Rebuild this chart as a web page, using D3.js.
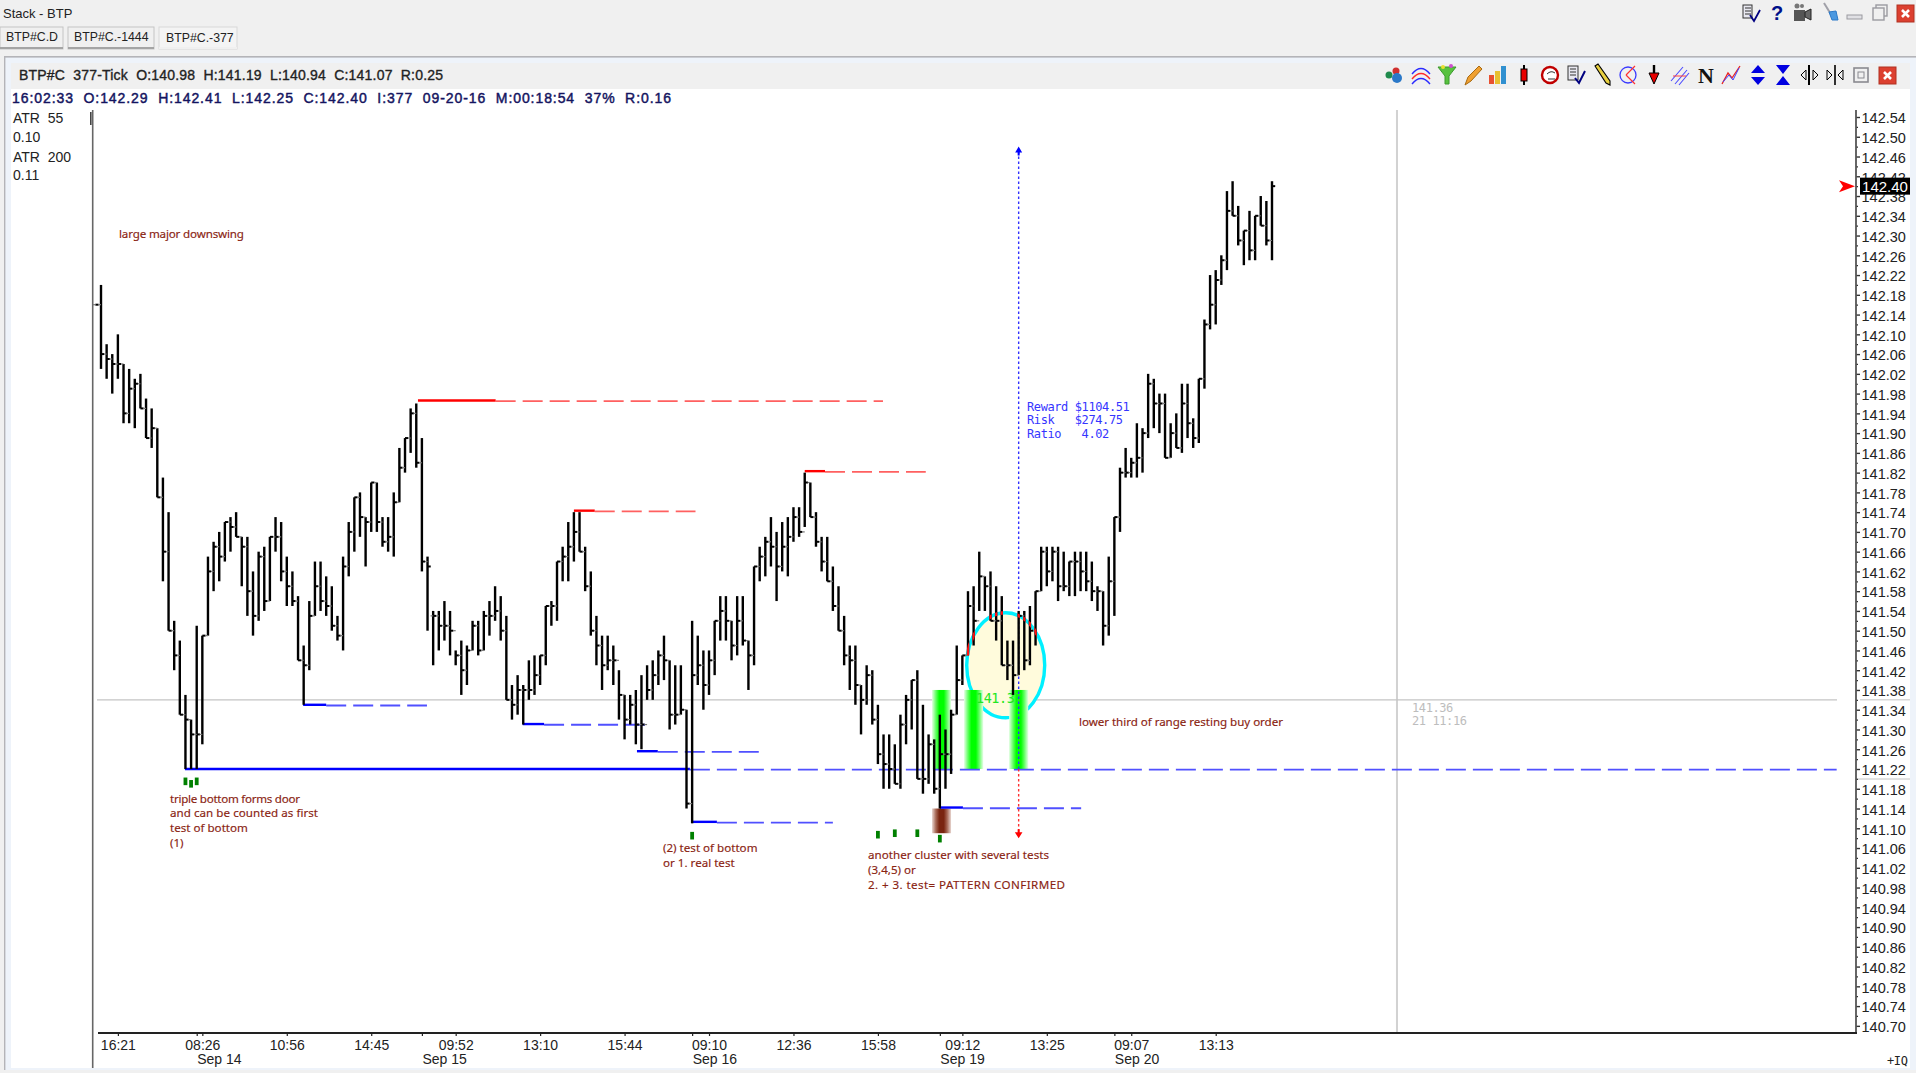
<!DOCTYPE html>
<html>
<head>
<meta charset="utf-8">
<script src="https://cdn.jsdelivr.net/npm/d3@7"></script>
<style>
  body { margin: 0; background: #f0f0f0; overflow: hidden; }
  svg { display: block; }
  text { white-space: pre; }
  .sans { font-family: "Liberation Sans", Arial, sans-serif; }
  .note { font-family: "Noto Sans", sans-serif; font-size: 11.6px; fill: #8a2412; stroke: #8a2412; stroke-width: 0.15px; }
  .mono { font-family: "DejaVu Sans Mono", monospace; letter-spacing: -0.4px; }
</style>
</head>
<body>
<div id="container"></div>
<script>
/* DATA, one value per bar */
const highs = [
  142.16,142.20,142.08,142.06,142.10,142.04,142.03,142.01,142.02,141.97,
  141.95,141.91,141.81,141.74,141.52,141.48,141.37,141.32,141.51,141.49,
  141.65,141.68,141.70,141.72,141.73,141.74,141.69,141.69,141.62,141.66,
  141.67,141.69,141.73,141.72,141.65,141.62,141.57,141.47,141.56,141.64,
  141.64,141.61,141.59,141.53,141.65,141.72,141.77,141.78,141.73,141.80,
  141.80,141.73,141.73,141.78,141.87,141.89,141.95,141.96,141.89,141.65,
  141.54,141.54,141.56,141.54,141.46,141.48,141.47,141.52,141.52,141.54,
  141.56,141.59,141.57,141.53,141.39,141.41,141.39,141.44,141.45,141.45,
  141.55,141.56,141.64,141.67,141.72,141.74,141.74,141.67,141.62,141.53,
  141.49,141.49,141.47,141.42,141.37,141.37,141.38,141.41,141.43,141.44,
  141.46,141.49,141.44,141.43,141.43,141.34,141.52,141.49,141.46,141.46,
  141.52,141.57,141.57,141.52,141.57,141.57,141.48,141.63,141.67,141.69,
  141.73,141.70,141.72,141.73,141.75,141.75,141.82,141.80,141.74,141.69,
  141.69,141.63,141.59,141.53,141.47,141.47,141.39,141.43,141.42,141.35,
  141.29,141.29,141.27,141.33,141.37,141.40,141.42,141.35,141.29,141.28,
  141.33,141.30,141.34,141.47,141.45,141.58,141.59,141.66,141.61,141.62,
  141.59,141.57,141.48,141.48,141.54,141.54,141.55,141.58,141.67,141.67,
  141.67,141.67,141.66,141.64,141.66,141.66,141.66,141.64,141.59,141.58,
  141.65,141.73,141.83,141.87,141.85,141.92,141.91,142.02,142.01,141.98,
  141.98,141.92,141.94,142.00,142.00,141.93,142.01,142.13,142.22,142.23,
  142.26,142.39,142.41,142.36,142.31,142.35,142.34,142.38,142.37,142.41];
const lows = [
  142.16,142.03,142.01,141.98,142.01,141.92,141.92,141.91,141.95,141.89,
  141.87,141.77,141.60,141.50,141.42,141.33,141.22,141.22,141.22,141.27,
  141.49,141.58,141.60,141.64,141.66,141.69,141.59,141.53,141.49,141.52,
  141.54,141.56,141.66,141.60,141.55,141.55,141.44,141.35,141.42,141.53,
  141.54,141.53,141.50,141.48,141.46,141.61,141.66,141.69,141.63,141.70,
  141.70,141.67,141.66,141.65,141.76,141.82,141.86,141.83,141.62,141.50,
  141.43,141.46,141.48,141.45,141.43,141.37,141.39,141.46,141.45,141.46,
  141.49,141.52,141.48,141.36,141.32,141.33,141.31,141.36,141.37,141.39,
  141.43,141.51,141.52,141.60,141.60,141.64,141.66,141.58,141.49,141.43,
  141.38,141.42,141.39,141.32,141.28,141.31,141.27,141.26,141.36,141.36,
  141.39,141.40,141.30,141.31,141.33,141.14,141.11,141.39,141.34,141.37,
  141.41,141.48,141.48,141.44,141.45,141.47,141.38,141.43,141.60,141.61,
  141.63,141.56,141.62,141.61,141.68,141.69,141.71,141.73,141.67,141.62,
  141.60,141.54,141.50,141.43,141.38,141.35,141.29,141.35,141.31,141.23,
  141.18,141.18,141.19,141.18,141.27,141.30,141.20,141.17,141.19,141.17,
  141.14,141.18,141.21,141.33,141.39,141.45,141.47,141.54,141.54,141.52,
  141.48,141.43,141.40,141.37,141.41,141.42,141.43,141.47,141.58,141.59,
  141.60,141.56,141.58,141.57,141.57,141.58,141.58,141.56,141.54,141.47,
  141.49,141.53,141.70,141.81,141.81,141.81,141.82,141.89,141.91,141.90,
  141.85,141.85,141.87,141.86,141.89,141.87,141.88,141.99,142.11,142.12,
  142.20,142.23,142.34,142.28,142.24,142.25,142.25,142.32,142.28,142.25];
const closes = [
  142.16,142.06,142.05,142.04,142.04,141.94,141.99,142.00,141.95,141.89,
  141.91,141.77,141.66,141.50,141.45,141.33,141.32,141.29,141.29,141.49,
  141.62,141.67,141.65,141.72,141.71,141.69,141.67,141.58,141.53,141.65,
  141.56,141.69,141.69,141.62,141.59,141.56,141.44,141.43,141.53,141.59,
  141.56,141.55,141.51,141.49,141.63,141.70,141.77,141.73,141.72,141.80,
  141.72,141.68,141.69,141.76,141.83,141.89,141.94,141.84,141.64,141.63,
  141.53,141.51,141.51,141.50,141.45,141.42,141.46,141.51,141.46,141.53,
  141.53,141.54,141.50,141.36,141.35,141.38,141.38,141.38,141.41,141.45,
  141.55,141.55,141.64,141.65,141.67,141.70,141.66,141.59,141.50,141.47,
  141.43,141.44,141.44,141.37,141.32,141.35,141.31,141.31,141.38,141.41,
  141.45,141.44,141.33,141.33,141.34,141.15,141.41,141.43,141.39,141.44,
  141.52,141.54,141.52,141.47,141.52,141.48,141.45,141.63,141.65,141.68,
  141.67,141.63,141.67,141.69,141.73,141.70,141.80,141.73,141.68,141.64,
  141.60,141.55,141.50,141.45,141.44,141.39,141.36,141.41,141.32,141.25,
  141.23,141.22,141.19,141.31,141.36,141.40,141.20,141.20,141.27,141.18,
  141.25,141.25,141.33,141.40,141.45,141.55,141.52,141.61,141.59,141.52,
  141.52,141.43,141.43,141.41,141.53,141.44,141.50,141.58,141.66,141.62,
  141.66,141.59,141.59,141.64,141.64,141.62,141.60,141.58,141.58,141.51,
  141.60,141.73,141.82,141.82,141.84,141.85,141.90,142.00,141.96,141.96,
  141.85,141.90,141.87,141.96,141.92,141.89,142.01,142.12,142.16,142.21,
  142.25,142.35,142.34,142.29,142.31,142.27,142.34,142.32,142.29,142.40];
const opens = [
  142.16,142.16,142.06,142.05,142.04,142.04,141.94,141.99,142.00,141.95,
  141.89,141.91,141.77,141.66,141.50,141.45,141.33,141.32,141.29,141.29,
  141.49,141.62,141.67,141.65,141.72,141.71,141.69,141.67,141.58,141.53,
  141.65,141.56,141.69,141.69,141.62,141.59,141.56,141.44,141.43,141.53,
  141.59,141.56,141.55,141.51,141.49,141.63,141.70,141.77,141.73,141.72,
  141.80,141.72,141.68,141.69,141.76,141.83,141.89,141.94,141.84,141.64,
  141.53,141.53,141.51,141.51,141.50,141.45,141.42,141.46,141.51,141.46,
  141.53,141.53,141.54,141.50,141.36,141.35,141.38,141.38,141.38,141.41,
  141.45,141.55,141.55,141.64,141.65,141.67,141.70,141.66,141.59,141.50,
  141.47,141.43,141.44,141.44,141.37,141.32,141.35,141.31,141.31,141.38,
  141.41,141.45,141.44,141.33,141.33,141.34,141.15,141.41,141.43,141.39,
  141.44,141.52,141.54,141.52,141.47,141.52,141.48,141.45,141.63,141.65,
  141.68,141.67,141.63,141.67,141.69,141.73,141.70,141.80,141.73,141.68,
  141.64,141.60,141.55,141.50,141.45,141.44,141.39,141.36,141.41,141.32,
  141.25,141.23,141.22,141.19,141.31,141.36,141.40,141.20,141.20,141.27,
  141.18,141.25,141.25,141.33,141.40,141.45,141.55,141.52,141.61,141.59,
  141.52,141.52,141.43,141.43,141.41,141.53,141.44,141.50,141.58,141.66,
  141.62,141.66,141.59,141.59,141.64,141.64,141.62,141.60,141.58,141.58,
  141.51,141.60,141.73,141.82,141.82,141.84,141.85,141.90,142.00,141.96,
  141.96,141.85,141.90,141.87,141.96,141.92,141.89,142.01,142.12,142.16,
  142.21,142.25,142.35,142.34,142.29,142.31,142.27,142.34,142.32,142.29];

const priceTicks = [142.54,142.50,142.46,142.42,142.38,142.34,142.30,142.26,142.22,142.18,142.14,142.10,
  142.06,142.02,141.98,141.94,141.90,141.86,141.82,141.78,141.74,141.70,141.66,141.62,141.58,141.54,
  141.50,141.46,141.42,141.38,141.34,141.30,141.26,141.22,141.18,141.14,141.10,141.06,141.02,140.98,
  140.94,140.90,140.86,140.82,140.78,140.74,140.70];
const priceMinorTicks = [142.52,142.48,142.44,142.40,142.36,142.32,142.28,142.24,142.20,142.16,142.12,142.08,
  142.04,142.00,141.96,141.92,141.88,141.84,141.80,141.76,141.72,141.68,141.64,141.60,141.56,141.52,
  141.48,141.44,141.40,141.36,141.32,141.28,141.24,141.20,141.16,141.12,141.08,141.04,141.00,140.96,
  140.92,140.88,140.84,140.80,140.76,140.72];
const timeBars = [4,19,34,49,64,79,94,109,124,139,154,169,184,199];
const timeLabels = ["16:21","08:26","10:56","14:45","09:52","13:10","15:44","09:10","12:36","15:58","09:12","13:25","09:07","13:13"];
const dateBars = [18,58,106,150,181];
const dateLabels = ["Sep 14","Sep 15","Sep 16","Sep 19","Sep 20"];

// support / resistance levels: price, first bar, end of solid part, end of dashes
const redPrices = [141.966,141.743,141.823];
const redStart = [57.3,85,126];
const redSolidEnd = [71.1,88.7,129.6];
const redDashEnd = [139.9,106.6,147.5];
const bluePrices = [141.22,141.35,141.311,141.256,141.113,141.142];
const blueStart = [15.9,36.9,75.9,96.2,105.9,150];
const blueSolidEnd = [105.6,41,79.7,99.9,110.4,154.1];
const blueDashEnd = [309.3,58.9,97.6,118,131,175.1];

const markerBars = [16,17,18,106,139,142,146,150];
const markerPrices = [141.195,141.19,141.195,141.085,141.087,141.09,141.09,141.079];

const greenColumnBars = [150.3,156,164];
const tradeBar = 164, tradeEntry = 141.22, tradeTarget = 142.47, tradeStop = 141.09;
const crossBar = 231.2, crossPrice = 141.36, lastPrice = 142.40;

/* SCALES */
const width = 1916, height = 1073;
const x = d3.scaleLinear().domain([1, 209]).range([101, 1272]);
const y = d3.scaleLinear().domain([141.22, 142.54]).range([769, 117]);

const svg = d3.select("#container").append("svg")
  .attr("width", width)
  .attr("height", height);

/* WINDOW CHROME */
const rect = (g, rx, ry, w, h, fill) => g.append("rect")
  .attr("x", rx).attr("y", ry).attr("width", w).attr("height", h).attr("fill", fill);
const label = (g, tx, ty, str, size, fill, cls = "sans") => g.append("text")
  .attr("class", cls).attr("x", tx).attr("y", ty).attr("dy", "0.35em")
  .attr("font-size", size).attr("fill", fill).text(str);

rect(svg, 0, 0, width, height, "#f0f0f0");
rect(svg, 4, 56, 1912, 1014, "#eef3fa");
rect(svg, 4, 56, 1912, 1.6, "#b4b4b8");
rect(svg, 4, 56, 1.4, 1014, "#b4b4b8");
rect(svg, 11, 63, 1899, 26, "#f0f0f0");
rect(svg, 11, 89, 1899, 979, "#ffffff");

label(svg, 3, 13, "Stack - BTP", 13, "#222");

// tabs
const tabs = [["BTP#C.D", 0, 63], ["BTP#C.-1444", 68, 86], ["BTP#C.-377", 159, 78]];
tabs.forEach(([t, tx, tw], i) => {
  const active = i === 2;
  rect(svg, tx, 27, tw, 22, active ? "#f4f4f4" : "#f0f0f0")
    .attr("stroke", active ? "#d8d8d8" : "#c4c4c4").attr("stroke-width", 1);
  rect(svg, tx, 47, tw, 2, active ? "#f0f0f0" : "#a4a4a4");
  label(svg, tx + (active ? 7 : 6), active ? 38 : 37, t, 12.3, "#222");
});

// header lines
label(svg, 19, 75, "BTP#C  377-Tick  O:140.98  H:141.19  L:140.94  C:141.07  R:0.25", 14, "#222")
  .attr("stroke", "#222").attr("stroke-width", 0.35).attr("textLength", 424);
label(svg, 12, 98, "16:02:33  O:142.29  H:142.41  L:142.25  C:142.40  I:377  09-20-16  M:00:18:54  37%  R:0.16", 14, "#14145f")
  .attr("stroke", "#14145f").attr("stroke-width", 0.45).attr("textLength", 659);

// ATR block
label(svg, 13, 118, "ATR  55", 14, "#222");
label(svg, 13, 137, "0.10", 14, "#222");
label(svg, 13, 157, "ATR  200", 14, "#222");
label(svg, 13, 175, "0.11", 14, "#222");
rect(svg, 90, 112, 1.6, 13, "#444");

/* ICONS */
const icon = (ix, iy) => svg.append("g").attr("transform", `translate(${ix},${iy})`);
const pathIn = (g, d, stroke, fill = "none", sw = 1.4) => g.append("path")
  .attr("d", d).attr("stroke", stroke).attr("fill", fill).attr("stroke-width", sw);
const circleIn = (g, cx, cy, r, fill, stroke = "none", sw = 1) => g.append("circle")
  .attr("cx", cx).attr("cy", cy).attr("r", r).attr("fill", fill).attr("stroke", stroke).attr("stroke-width", sw);

const iconY = 75;
let g = icon(1394, iconY);
circleIn(g, -5, 0, 3.5, "#1f8a4c"); circleIn(g, 2, -4, 3.5, "#d03030"); circleIn(g, 3, 3, 5, "#2a78c8");
g = icon(1421, iconY);
pathIn(g, "M-9,-1 Q0,-12 9,-1", "#2a2aff"); pathIn(g, "M-9,4 Q0,-7 9,4", "#ff2a2a"); pathIn(g, "M-9,9 Q0,-2 9,9", "#2a2aff");
g = icon(1447, iconY);
pathIn(g, "M-9,-8 L9,-8 L2,1 L2,9 L-2,9 L-2,1 Z", "#3d9a2e", "#58c23f", 1);
circleIn(g, -4, -8, 2, "#e8e030"); circleIn(g, 4, -9, 2, "#d050d0");
g = icon(1473, iconY);
pathIn(g, "M-8,10 L-5,2 L6,-9 L9,-6 L-2,6 Z", "#a86a10", "#f0a030", 1);
g = icon(1498, iconY);
rect(g, -9, 0, 5, 9, "#e85030"); rect(g, -3, -4, 5, 13, "#e8c030"); rect(g, 3, -9, 5, 18, "#3090d0");
g = icon(1524, iconY);
pathIn(g, "M0,-10 L0,10", "#000", "none", 2); rect(g, -3, -6, 6, 12, "#e80000").attr("stroke", "#000");
g = icon(1550, iconY);
circleIn(g, 0, 0, 8, "#fff", "#c00000", 2.4); pathIn(g, "M-3,-1 Q1,-5 5,-2 M-2,4 L5,4", "#333", "none", 1);
g = icon(1576, iconY);
rect(g, -8, -9, 10, 14, "#e8e8f0").attr("stroke", "#333");
pathIn(g, "M-6,-6 H0 M-6,-3 H0 M-6,0 H0", "#333", "none", 1); pathIn(g, "M-1,3 L3,8 L9,-4", "#000080", "none", 2);
g = icon(1602, iconY);
pathIn(g, "M-7,-9 L-4,-11 L8,6 L8,10 L4,8 Z", "#000", "#e8d040", 1.1);
g = icon(1628, iconY);
circleIn(g, 0, 0, 8, "none", "#3a3aff", 1.3); pathIn(g, "M-2,0 L7,-9 M-2,0 L7,9", "#ff3030", "none", 1.2);
g = icon(1654, iconY);
pathIn(g, "M0,-10 L0,-2", "#000", "none", 2.4); pathIn(g, "M-5,-2 L5,-2 L0,9 Z", "#000", "#e80000", 1);
g = icon(1680, iconY);
pathIn(g, "M-9,6 L3,-8 M-5,9 L7,-5 M-1,10 L9,-2", "#4a4aff", "none", 1.1); pathIn(g, "M-7,1 L6,1", "#ff4040", "none", 1);
g = icon(1706, iconY);
g.append("text").attr("text-anchor", "middle").attr("y", 8).attr("font-family", "Liberation Serif, serif")
  .attr("font-weight", "bold").attr("font-size", 22).attr("fill", "#111").text("N");
g = icon(1731, iconY);
pathIn(g, "M-9,9 L-3,-2 L1,3 L9,-9", "#e82020", "none", 1.3); pathIn(g, "M-8,7 L-2,0 L2,5 L8,-7", "#4040ff", "none", 1);
g = icon(1758, iconY);
pathIn(g, "M-7,-2 L7,-2 L0,-10 Z M-7,2 L7,2 L0,10 Z", "none", "#0000e0", 0);
g = icon(1783, iconY);
pathIn(g, "M-7,-10 L7,-10 L0,-1 Z M-7,10 L7,10 L0,1 Z", "none", "#0000e0", 0);
g = icon(1810, iconY);
pathIn(g, "M-1,-10 V10", "#000", "none", 2); pathIn(g, "M-4,-5 L-9,0 L-4,5 Z M3,-5 L8,0 L3,5 Z", "#000", "#eee", 1);
g = icon(1835, iconY);
pathIn(g, "M0,-10 V10", "#000", "none", 1.6); pathIn(g, "M-8,-5 L-3,0 L-8,5 Z M8,-5 L3,0 L8,5 Z", "#000", "#eee", 1);
g = icon(1861, iconY);
rect(g, -7, -7, 14, 14, "none").attr("stroke", "#8a8a90").attr("stroke-width", 1.6);
rect(g, -3, -3, 6, 6, "none").attr("stroke", "#8a8a90");
const closeIcon = (ix, iy) => {
  const c = icon(ix, iy);
  rect(c, -8, -8, 17, 17, "#dc4030").attr("stroke", "#b03020");
  pathIn(c, "M-3,-3 L4,4 M4,-3 L-3,4", "#fff", "none", 2.6);
};
closeIcon(1887, iconY);

const topY = 13;
g = icon(1751, topY);
rect(g, -8, -8, 9, 13, "#e8e8f0").attr("stroke", "#333");
pathIn(g, "M-6,-5 H0 M-6,-2 H0 M-6,1 H0", "#333", "none", 1); pathIn(g, "M-1,2 L3,8 L9,-3", "#000080", "none", 1.8);
g = icon(1777, topY);
g.append("text").attr("class", "sans").attr("text-anchor", "middle").attr("y", 7).attr("font-weight", "bold")
  .attr("font-size", 20).attr("fill", "#00108a").text("?");
g = icon(1802, topY);
rect(g, -8, -3, 11, 11, "#555"); pathIn(g, "M3,-1 L9,-4 L9,7 L3,4 Z", "#222", "#666", 1); circleIn(g, -5, -7, 2.5, "#777"); circleIn(g, 0, -7, 2, "#777");
g = icon(1830, topY);
pathIn(g, "M-6,-10 L2,3", "#a0a0a8", "none", 2); pathIn(g, "M-1,-1 L6,-2 L8,7 L2,7 Z", "#2a78c8", "#4a98e0", 1);
g = icon(1854, topY);
rect(g, -7, 2, 15, 4, "#e0e0e4").attr("stroke", "#9a9aa0");
g = icon(1880, topY);
rect(g, -4, -8, 11, 11, "none").attr("stroke", "#9a9aa0").attr("stroke-width", 1.4);
rect(g, -7, -5, 11, 12, "#f0f0f0").attr("stroke", "#9a9aa0").attr("stroke-width", 1.4);
closeIcon(1905, topY);

/* GRADIENTS */
const defs = svg.append("defs");
const fade = (id, core, edge, mid) => {
  const lg = defs.append("linearGradient").attr("id", id);
  [[0, edge], [0.2, mid], [0.38, core], [0.62, core], [0.8, mid], [1, edge]]
    .forEach(([o, c]) => lg.append("stop").attr("offset", o).attr("stop-color", c));
};
fade("greenFade", "#00ff00", "#e4ffe4", "#66ff66");
fade("brownFade", "#7a2510", "#e8d6d0", "#a86a58");

/* AXIS LINES AND CROSSHAIR */
const plot = svg.append("g");
plot.append("line").attr("x1", 92.7).attr("x2", 92.7).attr("y1", 110).attr("y2", 1068)
  .attr("stroke", "#666").attr("stroke-width", 1.6);
plot.append("line").attr("x1", x(crossBar)).attr("x2", x(crossBar)).attr("y1", 110).attr("y2", 1033)
  .attr("stroke", "#d2d2d2").attr("stroke-width", 2);
plot.append("line").attr("x1", 97).attr("x2", 1837).attr("y1", y(crossPrice)).attr("y2", y(crossPrice))
  .attr("stroke", "#c4c4c4").attr("stroke-width", 1.4);
plot.append("line").attr("x1", 1860).attr("x2", 1910).attr("y1", y(crossPrice)).attr("y2", y(crossPrice))
  .attr("stroke", "#c4c4c4").attr("stroke-width", 1);
plot.append("line").attr("x1", 1856).attr("x2", 1910).attr("y1", 779).attr("y2", 779)
  .attr("stroke", "#c4c4c4").attr("stroke-width", 1);

label(plot, 1412, 708, "141.36", 12, "#bdbdbd", "mono");
label(plot, 1412, 721, "21 11:16", 12, "#bdbdbd", "mono");

/* GREEN AND BROWN COLUMNS */
plot.selectAll("rect.green")
  .data(greenColumnBars)
  .join("rect")
  .attr("class", "green")
  .attr("x", d => x(d) - 9.5)
  .attr("width", 19)
  .attr("y", y(141.38))
  .attr("height", y(141.22) - y(141.38))
  .attr("fill", "url(#greenFade)");
plot.append("rect")
  .attr("x", x(150.3) - 9.5).attr("width", 19)
  .attr("y", y(141.14)).attr("height", y(141.09) - y(141.14))
  .attr("fill", "url(#brownFade)");

/* CIRCLE */
const circleBar = 161.7, circlePrice = 141.43, circleRx = 39, circleRy = 52.5;
plot.append("ellipse")
  .attr("cx", x(circleBar)).attr("cy", y(circlePrice))
  .attr("rx", circleRx).attr("ry", circleRy)
  .attr("fill", "#fffbdc").attr("stroke", "#00f0ff").attr("stroke-width", 3.4);
const greenCol = plot.append("g");
[156, 164].forEach(b => {
  greenCol.append("rect")
    .attr("x", x(b) - 9.5).attr("width", 19)
    .attr("y", y(141.38)).attr("height", y(141.22) - y(141.38))
    .attr("fill", "url(#greenFade)");
});
label(plot, 976, 698, "141.37", 13.4, "#22e622", "mono");

/* LEVELS */
const drawLevels = (prices, starts, solidEnds, dashEnds, solidColor, dashColor) => {
  plot.selectAll(null).data(prices).join("line")
    .attr("x1", (d, i) => x(solidEnds[i])).attr("x2", (d, i) => x(dashEnds[i]))
    .attr("y1", d => y(d) + 0.7).attr("y2", d => y(d) + 0.7)
    .attr("stroke", dashColor).attr("stroke-width", 1.8)
    .attr("stroke-dasharray", "20 7");
  plot.selectAll(null).data(prices).join("line")
    .attr("x1", (d, i) => x(starts[i])).attr("x2", (d, i) => x(solidEnds[i]))
    .attr("y1", d => y(d)).attr("y2", d => y(d))
    .attr("stroke", solidColor).attr("stroke-width", 2.4);
};
drawLevels(redPrices, redStart, redSolidEnd, redDashEnd, "#ff0000", "#ff6060");
drawLevels(bluePrices, blueStart, blueSolidEnd, blueDashEnd, "#0000ff", "#5050ff");

/* TRADE LINE */
plot.append("line")
  .attr("x1", x(tradeBar)).attr("x2", x(tradeBar))
  .attr("y1", y(tradeTarget)).attr("y2", y(tradeEntry))
  .attr("stroke", "#3030ff").attr("stroke-width", 1.4).attr("stroke-dasharray", "2.5 2.5");
plot.append("line")
  .attr("x1", x(tradeBar)).attr("x2", x(tradeBar))
  .attr("y1", y(tradeEntry)).attr("y2", y(tradeStop))
  .attr("stroke", "#ff3030").attr("stroke-width", 1.4).attr("stroke-dasharray", "2.5 2.5");
plot.append("path")
  .attr("transform", `translate(${x(tradeBar)},${y(tradeTarget)})`)
  .attr("d", "M0,-5 L3.5,1 L1,1 L1,4 L-1,4 L-1,1 L-3.5,1 Z").attr("fill", "#0000ff");
plot.append("path")
  .attr("transform", `translate(${x(tradeBar)},${y(tradeStop)})`)
  .attr("d", "M0,5 L3.8,-1 L1,-1 L1,-4 L-1,-4 L-1,-1 L-3.8,-1 Z").attr("fill", "#ff0000");

/* BARS */
const bars = d3.range(highs.length);
const barsG = plot.append("g");
const drawBars = (sel, color, w) => {
  sel.selectAll("line.hl").data(bars).join("line").attr("class", "hl")
    .attr("x1", d => x(d)).attr("x2", d => x(d))
    .attr("y1", d => y(highs[d])).attr("y2", d => y(lows[d]))
    .attr("stroke", color).attr("stroke-width", w);
};
drawBars(barsG, "#000", 2.4);
barsG.selectAll("line.close").data(bars).join("line").attr("class", "close")
  .attr("x1", d => x(d)).attr("x2", d => x(d) + 3.2)
  .attr("y1", d => y(closes[d])).attr("y2", d => y(closes[d]))
  .attr("stroke", "#000").attr("stroke-width", 2);
barsG.selectAll("line.open").data(bars).join("line").attr("class", "open")
  .attr("x1", d => x(d) - 2.6).attr("x2", d => x(d))
  .attr("y1", d => y(opens[d])).attr("y2", d => y(opens[d]))
  .attr("stroke", "#777").attr("stroke-width", 1.2);

// bars turn red where they cross the cyan ring
const ringMask = defs.append("mask").attr("id", "ringMask").attr("maskUnits", "userSpaceOnUse")
  .attr("x", 0).attr("y", 0).attr("width", width).attr("height", height);
ringMask.append("ellipse")
  .attr("cx", x(circleBar)).attr("cy", y(circlePrice))
  .attr("rx", circleRx).attr("ry", circleRy)
  .attr("fill", "none").attr("stroke", "#fff").attr("stroke-width", 3.4);
const ringBars = plot.append("g").attr("mask", "url(#ringMask)");
drawBars(ringBars, "#ff1010", 2.4);

/* MARKERS */
plot.selectAll("rect.marker")
  .data(markerBars)
  .join("rect")
  .attr("class", "marker")
  .attr("x", d => x(d) - 1.9)
  .attr("y", (d, i) => y(markerPrices[i]) - 3.8)
  .attr("width", 3.8)
  .attr("height", 7.6)
  .attr("fill", "#008000");

/* NOTES, last value fits the line to its width in the picture */
const notes = [
  [119, 234, "large major downswing", 125],
  [170, 799, "triple bottom forms door", 130],
  [170, 813, "and can be counted as first", 148],
  [170, 828, "test of bottom"],
  [170, 843, "(1)"],
  [663, 848, "(2) test of bottom"],
  [663, 863, "or 1. real test"],
  [868, 855, "another cluster with several tests", 181],
  [868, 870, "(3,4,5) or"],
  [868, 885, "2. + 3. test= PATTERN CONFIRMED", 197],
  [1079, 722, "lower third of range resting buy order", 204]
];
plot.selectAll("text.note")
  .data(notes)
  .join("text")
  .attr("class", "note")
  .attr("x", d => d[0])
  .attr("y", d => d[1])
  .attr("dy", "0.35em")
  .attr("textLength", d => d[3] || null)
  .text(d => d[2]);

label(plot, 1027, 407, "Reward $1104.51", 12, "#3535ff", "mono");
label(plot, 1027, 420, "Risk   $274.75", 12, "#3535ff", "mono");
label(plot, 1027, 434, "Ratio   4.02", 12, "#3535ff", "mono");

/* PRICE AXIS */
const axisRightG = svg.append("g")
  .attr("transform", "translate(1856,0)")
  .call(d3.axisRight(y).tickValues(priceTicks).tickFormat(d3.format(".2f")).tickSize(4).tickPadding(1.5));
axisRightG.select(".domain").remove();
axisRightG.selectAll("line").attr("stroke", "#333").attr("stroke-width", 1.4);
axisRightG.selectAll("text").attr("font-family", "Liberation Sans, Arial, sans-serif")
  .attr("font-size", 14.5).attr("fill", "#222").attr("dy", "0.4em");
const axisMinorG = svg.append("g")
  .attr("transform", "translate(1856,0)")
  .call(d3.axisRight(y).tickValues(priceMinorTicks).tickFormat("").tickSize(2));
axisMinorG.select(".domain").remove();
axisMinorG.selectAll("line").attr("stroke", "#333").attr("stroke-width", 1.2);
svg.append("line").attr("x1", 1856).attr("x2", 1856).attr("y1", 110).attr("y2", 1033)
  .attr("stroke", "#555").attr("stroke-width", 1.8);

// last price tag
svg.append("rect").attr("x", 1860).attr("y", y(lastPrice) - 8.5).attr("width", 50).attr("height", 17).attr("fill", "#000");
svg.append("text").attr("class", "sans").attr("x", 1885).attr("y", y(lastPrice)).attr("dy", "0.37em")
  .attr("text-anchor", "middle").attr("font-size", 15).attr("fill", "#fff").text(d3.format(".2f")(lastPrice));
svg.append("path").attr("transform", `translate(1855,${y(lastPrice)})`)
  .attr("d", "M0,0 L-16,-6 L-12,0 L-16,6 Z").attr("fill", "#ff0000");

/* TIME AXIS */
const axisTime = svg.append("g")
  .attr("transform", "translate(0,1033)")
  .call(d3.axisBottom(x).tickValues(timeBars).tickFormat((d, i) => timeLabels[i]).tickSize(3).tickPadding(4));
axisTime.select(".domain").remove();
const axisDate = svg.append("g")
  .attr("transform", "translate(0,1033)")
  .call(d3.axisBottom(x).tickValues(dateBars).tickFormat((d, i) => dateLabels[i]).tickSize(3));
axisDate.select(".domain").remove();
[axisTime, axisDate].forEach(a => {
  a.selectAll("line").attr("stroke", "#222").attr("stroke-width", 1.2);
  a.selectAll("text").attr("font-family", "Liberation Sans, Arial, sans-serif")
    .attr("font-size", 14).attr("fill", "#222");
});
axisDate.selectAll("text").attr("text-anchor", "start").attr("y", 21);
svg.append("line").attr("x1", 98).attr("x2", 1857).attr("y1", 1033).attr("y2", 1033)
  .attr("stroke", "#222").attr("stroke-width", 1.8);

label(svg, 1887, 1061, "+IQ", 12, "#222", "mono");
</script>
</body>
</html>
